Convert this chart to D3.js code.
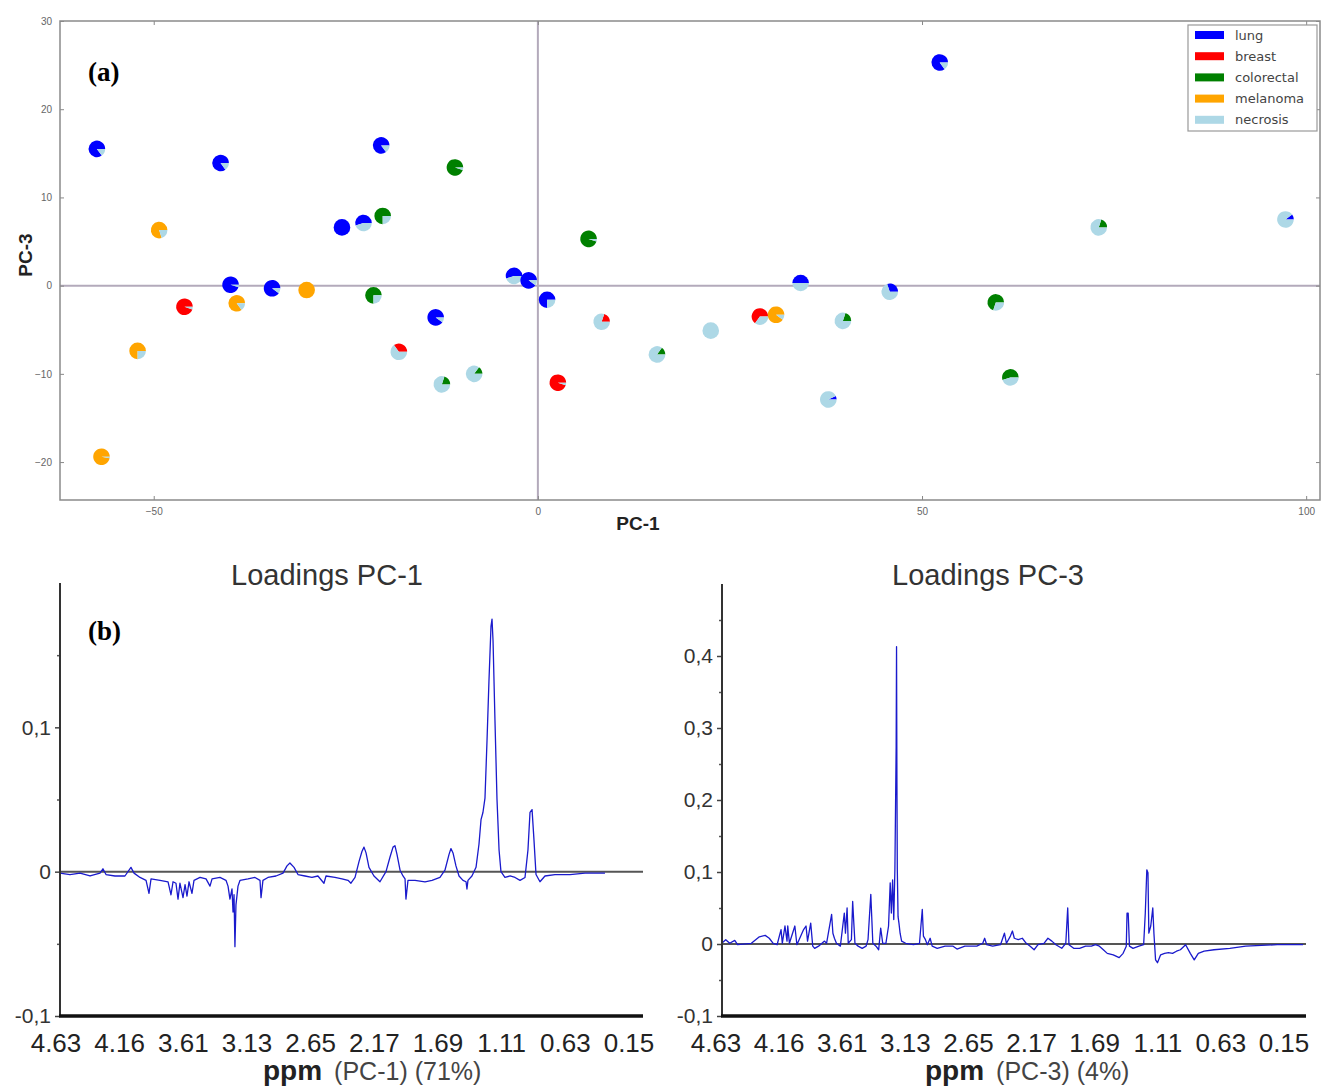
<!DOCTYPE html>
<html><head><meta charset="utf-8">
<script src="https://cdn.jsdelivr.net/npm/d3@7"></script>
<style>body{margin:0;background:#fff}svg{display:block}</style>
</head><body>
<svg id="c" width="1322" height="1086"></svg>
<script>
// ---------- DATA ----------
const groups = ["lung","breast","colorectal","melanoma","necrosis"];
const groupColors = ["#0000ff","#ff0000","#008000","#ffa500","#add8e6"];

const scorePC1 = [-57.4,-41.3,-49.3,-40.0,-46.0,-39.2,-34.6,-30.1,-52.1,-56.8,-20.4,-25.5,-22.7,-20.2,-10.8,-21.4,-13.3,-18.1,-12.5,-8.3,-3.1,-1.2,1.2,6.6,2.6,8.3,15.5,22.5,28.9,31.0,34.2,37.8,39.7,45.8,52.3,59.6,61.5,73.0,97.3];
const scorePC3 = [15.5,13.9,6.3,0.1,-2.4,-2.0,-0.3,-0.5,-7.4,-19.4,15.9,6.6,7.1,7.9,13.4,-1.1,-3.6,-7.5,-11.2,-10.0,1.1,0.6,-1.6,5.3,-11.0,-4.1,-7.8,-5.1,-3.5,-3.3,0.3,-12.9,-4.0,-0.7,25.3,-1.9,-10.4,6.6,7.5];
const mixLung       = [0.85,0.85,0,0.95,0,0,0.9,0,0,0,0.85,1,0.55,0,0,0,0.9,0,0,0,0.55,0.9,0.75,0,0,0,0,0,0,0,0.5,0.07,0,0.3,0.85,0,0,0,0.1];
const mixBreast     = [0,0,0,0,0.95,0,0,0,0,0,0,0,0,0,0,0,0,0.35,0,0,0,0,0,0,0.95,0.2,0,0,0.65,0,0,0,0,0,0,0,0,0,0];
const mixColorectal = [0,0,0,0,0,0,0,0,0,0,0,0,0,0.75,0.95,0.75,0,0,0.2,0.15,0,0,0,0.95,0,0,0.15,0,0,0,0,0,0.2,0,0,0.7,0.55,0.2,0];
const mixMelanoma   = [0,0,0.8,0,0,0.85,0,1,0.75,0.97,0,0,0,0,0,0,0,0,0,0,0,0,0,0,0,0,0,0,0,0.9,0,0,0,0,0,0,0,0,0];
const mixNecrosis   = [0.15,0.15,0.2,0.05,0.05,0.15,0.1,0,0.25,0.03,0.15,0,0.45,0.25,0.05,0.25,0.1,0.65,0.8,0.85,0.45,0.1,0.25,0.05,0.05,0.8,0.85,1,0.35,0.1,0.5,0.93,0.8,0.7,0.15,0.3,0.45,0.8,0.9];

const scatterXTicks = [-50,0,50,100];
const scatterYTicks = [-20,-10,0,10,20,30];

const ppmLabels = ["4.63","4.16","3.61","3.13","2.65","2.17","1.69","1.11","0.63","0.15"];
const pc1YTicks = [-0.1,0,0.1];
const pc1YMinor = [-0.05,0.05,0.15];
const pc3YTicks = [-0.1,0,0.1,0.2,0.3,0.4];
const pc3YMinor = [-0.05,0.05,0.15,0.25,0.35,0.45];

// [ppm, loading]
const pc1Loadings = [[4.599,-0.001],[4.521,-0.002],[4.442,-0.001],[4.364,-0.003],[4.286,-0.001],[4.263,0.002],[4.239,-0.002],[4.169,-0.003],[4.091,-0.003],[4.044,0.003],[4.020,-0.001],[3.973,-0.004],[3.926,-0.006],[3.903,-0.015],[3.887,-0.005],[3.817,-0.006],[3.754,-0.007],[3.731,-0.016],[3.715,-0.007],[3.692,-0.008],[3.676,-0.019],[3.661,-0.008],[3.637,-0.018],[3.621,-0.009],[3.606,-0.017],[3.590,-0.007],[3.567,-0.015],[3.551,-0.006],[3.504,-0.004],[3.457,-0.005],[3.426,-0.010],[3.410,-0.005],[3.348,-0.004],[3.301,-0.006],[3.285,-0.010],[3.270,-0.019],[3.254,-0.012],[3.246,-0.028],[3.238,-0.016],[3.231,-0.052],[3.223,-0.023],[3.207,-0.010],[3.191,-0.006],[3.129,-0.005],[3.074,-0.004],[3.035,-0.006],[3.027,-0.018],[3.012,-0.006],[2.973,-0.004],[2.910,-0.003],[2.855,-0.001],[2.824,0.004],[2.801,0.006],[2.769,0.003],[2.738,-0.002],[2.683,-0.003],[2.629,-0.004],[2.582,-0.003],[2.535,-0.008],[2.519,-0.003],[2.449,-0.004],[2.394,-0.005],[2.347,-0.006],[2.324,-0.008],[2.292,-0.004],[2.261,0.007],[2.238,0.014],[2.222,0.017],[2.206,0.013],[2.183,0.003],[2.144,-0.003],[2.097,-0.007],[2.050,0.000],[2.019,0.010],[1.995,0.017],[1.980,0.018],[1.964,0.012],[1.940,0.001],[1.917,-0.003],[1.901,-0.005],[1.894,-0.019],[1.878,-0.006],[1.823,-0.006],[1.745,-0.007],[1.690,-0.006],[1.628,-0.004],[1.589,0.001],[1.557,0.012],[1.542,0.016],[1.526,0.013],[1.503,0.004],[1.479,-0.003],[1.448,-0.006],[1.424,-0.007],[1.417,-0.012],[1.409,-0.006],[1.378,-0.003],[1.346,0.003],[1.323,0.019],[1.307,0.036],[1.292,0.041],[1.276,0.051],[1.260,0.091],[1.245,0.132],[1.229,0.170],[1.221,0.175],[1.213,0.160],[1.198,0.105],[1.182,0.050],[1.166,0.015],[1.151,0.000],[1.120,-0.004],[1.080,-0.003],[1.041,-0.004],[1.002,-0.006],[0.963,-0.004],[0.940,0.015],[0.924,0.041],[0.908,0.043],[0.893,0.022],[0.877,-0.002],[0.846,-0.007],[0.807,-0.003],[0.729,-0.002],[0.611,-0.002],[0.494,-0.001],[0.338,-0.001]];

const pc3Loadings = [[4.585,0.001],[4.553,0.006],[4.522,0.001],[4.482,0.005],[4.460,-0.001],[4.351,0.001],[4.288,0.010],[4.242,0.012],[4.210,0.008],[4.179,0.001],[4.148,-0.001],[4.117,0.020],[4.107,0.001],[4.086,0.025],[4.070,0.004],[4.064,0.025],[4.051,0.001],[4.008,0.025],[3.992,-0.001],[3.939,0.020],[3.920,0.025],[3.908,0.004],[3.883,0.029],[3.867,-0.003],[3.852,-0.006],[3.821,-0.003],[3.774,0.004],[3.758,0.001],[3.718,0.041],[3.708,0.015],[3.696,0.008],[3.680,0.001],[3.649,-0.003],[3.618,0.043],[3.609,0.015],[3.596,0.050],[3.587,0.001],[3.562,0.006],[3.552,0.059],[3.543,0.029],[3.534,0.001],[3.509,-0.003],[3.477,-0.006],[3.446,-0.003],[3.431,0.006],[3.409,0.069],[3.403,0.043],[3.393,0.001],[3.368,-0.003],[3.347,-0.008],[3.331,0.022],[3.315,0.001],[3.290,0.001],[3.269,0.025],[3.256,0.085],[3.247,0.043],[3.237,0.089],[3.228,0.034],[3.219,0.103],[3.209,0.275],[3.206,0.413],[3.203,0.228],[3.200,0.103],[3.194,0.038],[3.187,0.029],[3.178,0.015],[3.166,0.004],[3.134,0.001],[3.072,-0.001],[3.025,0.001],[3.003,0.048],[2.994,0.011],[2.978,0.006],[2.963,-0.001],[2.941,0.008],[2.925,-0.003],[2.885,-0.006],[2.823,-0.003],[2.760,-0.003],[2.729,-0.007],[2.667,-0.003],[2.573,-0.003],[2.526,0.001],[2.511,0.008],[2.495,-0.001],[2.448,-0.003],[2.386,-0.001],[2.355,0.015],[2.339,0.001],[2.308,0.011],[2.292,0.018],[2.277,0.008],[2.246,0.006],[2.214,0.008],[2.183,0.001],[2.152,-0.003],[2.121,-0.008],[2.090,-0.001],[2.043,0.001],[2.012,0.008],[1.981,0.004],[1.949,-0.001],[1.903,-0.006],[1.871,0.001],[1.856,0.050],[1.846,-0.001],[1.809,-0.006],[1.762,-0.006],[1.715,-0.003],[1.669,-0.003],[1.637,-0.001],[1.606,-0.003],[1.575,-0.008],[1.544,-0.013],[1.497,-0.015],[1.450,-0.019],[1.419,-0.013],[1.394,-0.003],[1.388,0.043],[1.379,0.043],[1.369,-0.003],[1.341,-0.006],[1.294,-0.003],[1.257,-0.001],[1.244,0.043],[1.232,0.103],[1.223,0.099],[1.216,0.015],[1.201,0.025],[1.185,0.050],[1.176,0.015],[1.163,-0.022],[1.148,-0.026],[1.123,-0.015],[1.092,-0.013],[1.061,-0.012],[1.029,-0.013],[0.998,-0.010],[0.967,-0.008],[0.926,-0.001],[0.889,-0.013],[0.858,-0.022],[0.826,-0.013],[0.780,-0.010],[0.702,-0.008],[0.577,-0.006],[0.452,-0.003],[0.328,-0.002],[0.203,-0.001],[0.078,-0.001],[0.000,-0.001]];

// ---------- DRAW ----------
const svg = d3.select("#c");
svg.append("rect").attr("width",1322).attr("height",1086).attr("fill","#fff");

// ===== Panel (a) scatter with pie markers =====
const A = {l:60, r:1320, t:21, b:500};
const x = d3.scaleLinear().domain([-62.2, 101.8]).range([A.l, A.r]);
const y = d3.scaleLinear().domain([-24.3, 30]).range([A.b, A.t]);
const gA = svg.append("g").attr("font-family","'DejaVu Sans', sans-serif");

// cross lines
gA.append("line").attr("x1",x(0)).attr("x2",x(0)).attr("y1",A.t).attr("y2",A.b)
  .attr("stroke","#b3aabb").attr("stroke-width",2);
gA.append("line").attr("x1",A.l).attr("x2",A.r).attr("y1",y(0)).attr("y2",y(0))
  .attr("stroke","#b3aabb").attr("stroke-width",2);

function styleAxis(g){
  g.select(".domain").remove();
  g.selectAll(".tick line").attr("stroke","#888").attr("stroke-width",1);
  g.selectAll(".tick text").attr("fill","#666").attr("font-size",10);
}
gA.append("g").attr("transform",`translate(0,${A.b})`)
  .call(d3.axisBottom(x).tickValues(scatterXTicks).tickSize(-4).tickPadding(8).tickFormat(d3.format("d"))).call(styleAxis);
gA.append("g").attr("transform",`translate(0,${A.t})`)
  .call(d3.axisTop(x).tickValues(scatterXTicks).tickSize(-4).tickFormat("")).call(styleAxis);
gA.append("g").attr("transform",`translate(${A.l},0)`)
  .call(d3.axisLeft(y).tickValues(scatterYTicks).tickSize(-4).tickPadding(8).tickFormat(d3.format("d"))).call(styleAxis);
gA.append("g").attr("transform",`translate(${A.r},0)`)
  .call(d3.axisRight(y).tickValues(scatterYTicks).tickSize(-4).tickFormat("")).call(styleAxis);

gA.append("rect").attr("x",A.l).attr("y",A.t).attr("width",A.r-A.l).attr("height",A.b-A.t)
  .attr("fill","none").attr("stroke","#8a8a8a").attr("stroke-width",1.5);

// pies
const samples = scorePC1.map((v,i)=>({
  x:v, y:scorePC3[i],
  mix:[mixLung[i],mixBreast[i],mixColorectal[i],mixMelanoma[i],mixNecrosis[i]]
}));
const pie = d3.pie().sort(null).value(d=>d.v)
  .startAngle(Math.PI/2).endAngle(Math.PI/2 - 2*Math.PI);
const arc = d3.arc().innerRadius(0).outerRadius(8.3);
const pg = gA.selectAll("g.pt").data(samples).join("g").attr("class","pt")
  .attr("transform",d=>`translate(${x(d.x)},${y(d.y)})`);
pg.selectAll("path").data(d=>pie(d.mix.map((v,k)=>({v,k})).filter(o=>o.v>0)))
  .join("path").attr("d",arc).attr("fill",d=>groupColors[d.data.k]);

// axis labels
gA.append("text").attr("x",638).attr("y",530).attr("text-anchor","middle")
  .attr("font-family","'Liberation Sans', Arial, sans-serif").attr("font-weight","bold")
  .attr("font-size",19).attr("fill","#222").text("PC-1");
gA.append("text").attr("transform","translate(32,255) rotate(-90)").attr("text-anchor","middle")
  .attr("font-family","'Liberation Sans', Arial, sans-serif").attr("font-weight","bold")
  .attr("font-size",19).attr("fill","#222").text("PC-3");
gA.append("text").attr("x",88).attr("y",81)
  .attr("font-family","'Liberation Serif', 'Times New Roman', serif").attr("font-weight","bold")
  .attr("font-size",27).attr("fill","#000").text("(a)");

// legend
const lg = gA.append("g");
lg.append("rect").attr("x",1188).attr("y",25).attr("width",129).attr("height",106)
  .attr("fill","#fff").attr("stroke","#999").attr("stroke-width",1.2);
const li = lg.selectAll("g.li").data(groups).join("g").attr("class","li")
  .attr("transform",(d,i)=>`translate(1195,${35+i*21.2})`);
li.append("rect").attr("x",0).attr("y",-4).attr("width",29).attr("height",8)
  .attr("fill",(d,i)=>groupColors[i]);
li.append("text").attr("x",40).attr("y",4.5).attr("font-size",13).attr("fill","#444").text(d=>d);

// ===== Panel (b) loadings =====
const fontB = "'Liberation Sans', Arial, sans-serif";
const fmtComma = d => d===0 ? "0" : String(d).replace(".",",");

function loadingsPanel(cfg){
  const g = svg.append("g").attr("font-family",fontB);
  const xs = d3.scaleLinear().domain([4.63,0.15]).range([cfg.lab0,cfg.lab1]);
  const ys = d3.scaleLinear().domain(cfg.yDom).range([1016,cfg.top]);
  const xl = d3.scalePoint().domain(ppmLabels).range([cfg.lab0,cfg.lab1]);
  // title
  g.append("text").attr("x",cfg.titleX).attr("y",585).attr("text-anchor","middle")
    .attr("font-size",29).attr("fill","#333").text(cfg.title);
  // y axis major ticks
  const ya = g.append("g").attr("transform",`translate(${cfg.ax0},0)`)
    .call(d3.axisLeft(ys).tickValues(cfg.major).tickSize(5).tickPadding(4).tickFormat(fmtComma));
  ya.select(".domain").remove();
  ya.selectAll(".tick line").attr("stroke","#444").attr("stroke-width",1.5);
  ya.selectAll(".tick text").attr("font-size",21).attr("fill","#333").attr("font-family",fontB);
  const ym = g.append("g").attr("transform",`translate(${cfg.ax0},0)`)
    .call(d3.axisLeft(ys).tickValues(cfg.minor).tickSize(3).tickFormat(""));
  ym.select(".domain").remove();
  ym.selectAll(".tick line").attr("stroke","#555").attr("stroke-width",1.5);
  // zero line
  g.append("line").attr("x1",cfg.ax0).attr("x2",cfg.ax1).attr("y1",ys(0)).attr("y2",ys(0))
    .attr("stroke","#555").attr("stroke-width",2);
  // spectrum
  g.append("path").datum(cfg.data)
    .attr("d",d3.line().x(d=>xs(d[0])).y(d=>ys(d[1])))
    .attr("fill","none").attr("stroke","#1a1acc").attr("stroke-width",1.3)
    .attr("stroke-linejoin","round");
  // axes lines
  g.append("line").attr("x1",cfg.ax0).attr("x2",cfg.ax0).attr("y1",cfg.top).attr("y2",1017)
    .attr("stroke","#333").attr("stroke-width",2);
  g.append("line").attr("x1",cfg.ax0-1).attr("x2",cfg.ax1).attr("y1",1016).attr("y2",1016)
    .attr("stroke","#111").attr("stroke-width",3.5);
  // ppm labels
  g.selectAll("text.pl").data(ppmLabels).join("text").attr("class","pl")
    .attr("x",d=>xl(d)).attr("y",1052).attr("text-anchor","middle")
    .attr("font-size",26).attr("fill","#222").text(d=>d);
  // x title
  const t = g.append("text").attr("x",cfg.ppmX).attr("y",1080).attr("fill","#222");
  t.append("tspan").attr("font-weight","bold").attr("font-size",28).text("ppm");
  t.append("tspan").attr("font-size",25).attr("fill","#444").attr("dx",12).text(cfg.sub);
  return g;
}

const gb1 = loadingsPanel({ax0:60, ax1:643, lab0:56, lab1:629, top:583, yDom:[-0.1,0.2],
  major:pc1YTicks, minor:pc1YMinor, data:pc1Loadings, title:"Loadings PC-1", titleX:327,
  ppmX:263, sub:"(PC-1) (71%)"});
const gb2 = loadingsPanel({ax0:722, ax1:1306, lab0:716, lab1:1284, top:584, yDom:[-0.1,0.5],
  major:pc3YTicks, minor:pc3YMinor, data:pc3Loadings, title:"Loadings PC-3", titleX:988,
  ppmX:925, sub:"(PC-3) (4%)"});

svg.append("text").attr("x",88).attr("y",640)
  .attr("font-family","'Liberation Serif', 'Times New Roman', serif").attr("font-weight","bold")
  .attr("font-size",27).attr("fill","#000").text("(b)");
</script>
</body></html>
